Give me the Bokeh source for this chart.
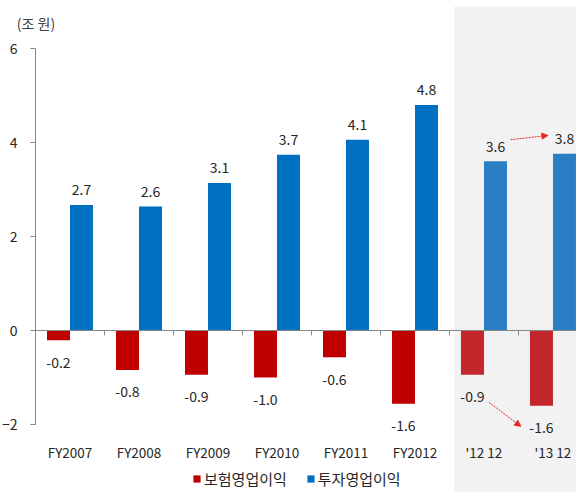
from bokeh.plotting import figure
from bokeh.models import (Range1d, FixedTicker, ColumnDataSource, BoxAnnotation, LinearAxis,
                          Label, Legend, LegendItem, Arrow, NormalHead)
from bokeh.core.properties import value
from bokeh.embed import file_html
from bokeh.resources import INLINE

categories = ["FY2007", "FY2008", "FY2009", "FY2010", "FY2011", "FY2012", "'12 12", "'13 12"]
insurance = [-0.21, -0.84, -0.94, -1.00, -0.57, -1.56, -0.94, -1.60]
investment = [2.67, 2.64, 3.14, 3.74, 4.06, 4.80, 3.60, 3.76]
y_ticks = [-2, 0, 2, 4, 6]
unit_label = "(조 원)"
series_names = ["보험영업이익", "투자영업이익"]
highlight_from = "'12 12"

FONT = "Noto Sans CJK KR"
TXT = "#262626"
AX = "#868686"
n = len(categories)
hi = categories.index(highlight_from)
xc = [i + 0.5 for i in range(n)]

src = ColumnDataSource(dict(
    xr=[x - 1/6 for x in xc],
    xb=[x + 1/6 for x in xc],
    red=insurance,
    blue=investment,
    red_lbl=[f"{v:.1f}" for v in insurance],
    blue_lbl=[f"{v:.1f}" for v in investment],
    red_col=["#C00000" if i < hi else "#C3272B" for i in range(n)],
    blue_col=["#0070C0" if i < hi else "#2A7FC4" for i in range(n)],
))

p = figure(width=576, height=492, output_backend="svg", toolbar_location=None,
           x_range=Range1d(-0.507, 7.841), y_range=Range1d(-3.447, 7.021),
           min_border_left=0, min_border_right=0, min_border_top=0, min_border_bottom=0,
           x_axis_location=None, y_axis_location=None)
p.outline_line_color = None
p.grid.visible = False
p.background_fill_color = "white"
p.border_fill_color = "white"

# highlight region
p.add_layout(BoxAnnotation(left=hi + 0.07, top=y_ticks[-1] + 0.894,
                           fill_color="#F2F2F2", fill_alpha=1, line_color=None, level="underlay"))

# y axis, pinned at x = 0 inside the frame
ya = LinearAxis(fixed_location=0)
ya.bounds = (y_ticks[0], y_ticks[-1])
ya.ticker = FixedTicker(ticks=y_ticks)
ya.axis_line_color = AX
ya.major_tick_line_color = AX
ya.major_tick_out = 5
ya.major_tick_in = 0
ya.minor_tick_line_color = None
ya.major_label_standoff = 13
ya.major_label_text_font = FONT
ya.major_label_text_font_size = "14px"
ya.major_label_text_color = TXT
p.add_layout(ya, "left")

# bars
r_red = p.vbar(x="xr", top="red", bottom=0, width=1/3, fill_color="red_col", line_color=None, source=src)
r_blue = p.vbar(x="xb", top="blue", bottom=0, width=1/3, fill_color="blue_col", line_color=None, source=src)

# zero line and category ticks
p.segment(x0=[0], y0=[0], x1=[n], y1=[0], line_color=AX, line_width=1)
p.segment(x0=list(range(1, n)), y0=[0] * (n - 1), x1=list(range(1, n)), y1=[-0.106] * (n - 1),
          line_color=AX, line_width=1)

# value labels
p.text(x="xb", y="blue", text="blue_lbl", source=src, text_align="center", text_baseline="middle",
       y_offset=-15, text_font=value(FONT), text_font_size="14px", text_color=TXT)
p.text(x="xr", y="red", text="red_lbl", source=src, text_align="center", text_baseline="middle",
       y_offset=22, text_font=value(FONT), text_font_size="14px", text_color=TXT)

# category labels
p.text(x=xc, y=[y_ticks[0]] * n, text=categories, text_align="center", text_baseline="middle",
       y_offset=28, text_font=value(FONT), text_font_size="13.5px", text_color=TXT)

# unit label
p.add_layout(Label(x=-0.27, y=y_ticks[-1] + 0.55, text=unit_label, text_baseline="middle",
                   text_font=FONT, text_font_size="14px", text_color="#404040"))

# arrows
ARC = "#E8262A"
p.add_layout(Arrow(x_start=xc[hi] + 1/6 + 0.22, y_start=investment[hi] + 0.46,
                   x_end=xc[hi + 1] + 1/6 - 0.24, y_end=investment[hi + 1] + 0.39,
                   line_color=ARC, line_width=1, line_dash="2 1",
                   end=NormalHead(size=6, fill_color=ARC, line_color=ARC)))
p.add_layout(Arrow(x_start=xc[hi] - 1/6 + 0.24, y_start=insurance[hi] - 0.59,
                   x_end=xc[hi + 1] - 1/6 - 0.30, y_end=insurance[hi + 1] - 0.44,
                   line_color=ARC, line_width=1, line_dash="2 1",
                   end=NormalHead(size=6, fill_color=ARC, line_color=ARC)))

# legend
legend = Legend(items=[LegendItem(label=series_names[0], renderers=[r_red], index=0),
                       LegendItem(label=series_names[1], renderers=[r_blue], index=0)],
                orientation="horizontal", location=(192, 3),
                glyph_width=9, glyph_height=9, label_standoff=3, spacing=19,
                padding=0, margin=0, background_fill_alpha=0, border_line_color=None,
                label_text_font=FONT, label_text_font_size="15px", label_text_color=TXT,
                label_height=18)
p.add_layout(legend)

open("out.html", "w").write(file_html(p, INLINE))
